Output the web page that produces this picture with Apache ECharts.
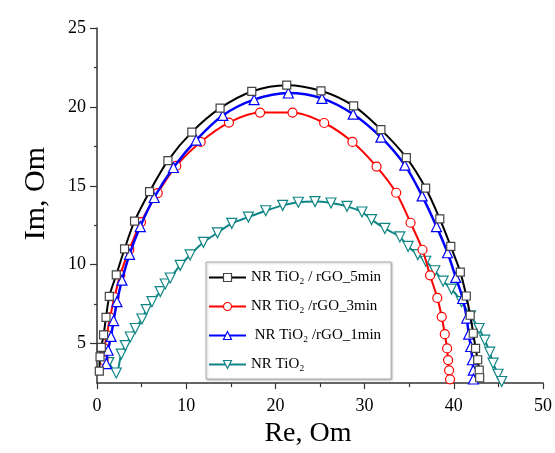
<!DOCTYPE html>
<html>
<head>
<meta charset="utf-8">
<script src="https://cdn.jsdelivr.net/npm/echarts@6/dist/echarts.min.js"></script>
<style>html,body{margin:0;padding:0;background:#fff}#c{width:555px;height:453px}</style>
</head>
<body>
<div id="c"></div>
<script>
const seriesNames = ['NR TiO\u2082 / rGO_5min', 'NR TiO\u2082 /rGO_3min', ' NR TiO\u2082 /rGO_1min', 'NR TiO\u2082'];
const xTicks = [0, 10, 20, 30, 40, 50];
const yTicks = [5, 10, 15, 20, 25];
const yMinorTicks = [7.5, 12.5, 17.5, 22.5];

const re5 = [0.26,0.34,0.48,0.74,1.01,1.38,2.16,3.09,4.21,5.89,7.95,10.63,13.8,17.35,21.27,25.11,28.77,31.83,34.68,36.84,38.43,39.66,40.73,41.4,41.84,42.18,42.44,42.68,42.85,42.9];
const im5 = [3.26,4.16,4.76,5.56,6.66,8.0,9.36,11.0,12.76,14.63,16.6,18.4,19.92,20.98,21.38,21.02,20.06,18.56,16.79,14.86,12.9,11.16,9.53,8.02,6.8,5.66,4.7,3.98,3.32,2.84];

const re3 = [0.74,0.82,1.1,1.46,1.96,2.61,3.62,4.93,6.81,8.88,11.62,14.79,18.28,21.92,25.47,28.64,31.34,33.54,35.15,36.49,37.34,38.15,38.65,38.99,39.25,39.36,39.47,39.58];
const im3 = [3.96,4.7,5.54,6.66,7.94,9.36,10.96,12.7,14.54,16.26,17.78,19.01,19.64,19.64,18.98,17.78,16.22,14.56,12.66,10.95,9.33,7.9,6.7,5.6,4.7,3.96,3.31,2.74];

const re1 = [1.04,1.24,1.57,1.86,2.24,2.8,3.65,4.85,6.41,8.57,11.12,14.1,17.61,21.45,25.22,28.72,31.83,34.51,36.45,38.06,39.3,40.22,41.0,41.45,41.67,41.9,42.09,42.18,42.2];
const im1 = [3.74,4.58,5.46,6.46,7.66,9.02,10.66,12.42,14.26,16.16,17.9,19.46,20.46,20.88,20.54,19.54,18.08,16.31,14.36,12.42,10.76,9.2,7.86,6.62,5.6,4.82,3.98,3.32,2.76];

const re0 = [1.32,2.16,2.72,3.17,3.73,4.29,5.04,5.52,6.16,7.09,7.65,8.21,9.33,10.44,11.93,13.5,15.11,16.97,18.92,20.82,22.57,24.44,26.23,28.02,29.7,30.78,32.27,33.95,34.88,35.97,36.86,37.87,38.8,39.74,40.86,41.87,42.83,43.47,44.03,44.4,44.96,45.37];
const im0 = [3.8,3.14,4.34,4.88,5.42,5.96,6.56,7.16,7.66,8.3,8.78,9.16,9.96,10.62,11.42,12.02,12.62,13.02,13.42,13.76,13.96,14.0,13.91,13.7,13.34,12.86,12.3,11.76,11.16,10.64,10.22,9.62,8.96,8.46,7.66,6.76,5.96,5.22,4.46,3.76,3.06,2.6];

function zip(xs, ys) { return xs.map((x, i) => [x, ys[i]]); }

const chart = echarts.init(document.getElementById('c'));
const font = 'Liberation Serif';
const axisColor = '#333';

function lineSeries(name, xs, ys, color, symbol, size, z, extra) {
  return Object.assign({
    name: name,
    type: 'line',
    data: zip(xs, ys),
    smooth: 0.3,
    symbol: symbol,
    symbolSize: size,
    showAllSymbol: true,
    z: z,
    lineStyle: { color: color, width: 2 },
    itemStyle: { color: '#fff', borderColor: color, borderWidth: 1.2 },
    emphasis: { disabled: true },
    animation: false
  }, extra || {});
}

chart.setOption({
  animation: false,
  grid: { left: 97, right: 12, top: 28, bottom: 51 },
  xAxis: {
    type: 'value', min: 0, max: 50, interval: 10,
    name: 'Re, Om', nameLocation: 'middle', nameGap: 19,
    nameTextStyle: { fontFamily: font, fontSize: 28, color: '#000', padding: [0, 24, 0, 0], verticalAlign: 'top' },
    axisLine: { show: true, lineStyle: { color: axisColor, width: 1.5 } },
    axisTick: { show: true, length: 6, lineStyle: { color: axisColor, width: 1.2 } },
    minorTick: { show: true, splitNumber: 2, length: 4, lineStyle: { color: axisColor, width: 1.2 } },
    axisLabel: { fontFamily: font, fontSize: 18, color: '#000', margin: 14,
      customValues: xTicks },
    splitLine: { show: false }
  },
  yAxis: [{
    type: 'value', min: 2.5, max: 25,
    name: 'Im, Om', nameLocation: 'middle', nameGap: 46,
    nameTextStyle: { fontFamily: font, fontSize: 30, color: '#000', padding: [0, 0, 0, 24] },
    axisLine: { show: true, lineStyle: { color: axisColor, width: 1.5 } },
    axisTick: { show: true, length: 7, customValues: yTicks, lineStyle: { color: axisColor, width: 1.2 } },
    axisLabel: { fontFamily: font, fontSize: 18, color: '#000', margin: 11, customValues: yTicks },
    splitLine: { show: false }
  }, {
    type: 'value', min: 2.5, max: 25, position: 'left',
    axisLine: { show: false },
    axisTick: { show: true, length: 3, customValues: yMinorTicks, lineStyle: { color: axisColor, width: 1.2 } },
    axisLabel: { show: false },
    splitLine: { show: false }
  }],
  legend: {
    orient: 'vertical', left: 206, top: 262,
    data: seriesNames,
    itemWidth: 37, itemHeight: 10, itemGap: 14,
    padding: [8, 10, 7, 2],
    borderColor: '#aaa', borderWidth: 1,
    backgroundColor: '#fff',
    shadowColor: 'rgba(0,0,0,0.25)', shadowBlur: 2, shadowOffsetX: 1, shadowOffsetY: 1,
    textStyle: { fontFamily: font, fontSize: 15, color: '#000' },
    itemStyle: { borderWidth: 1.2 }
  },
  series: [
    lineSeries(seriesNames[3], re0, im0, '#0f8585', 'triangle', 10, 2, { symbolRotate: 180 }),
    lineSeries(seriesNames[1], re3, im3, '#ff0000', 'circle', 9, 3),
    lineSeries(seriesNames[2], re1, im1, '#0000ff', 'triangle', 10, 4, { lineStyle: { color: '#0000ff', width: 2.5 } }),
    lineSeries(seriesNames[0], re5, im5, '#000000', 'rect', 8, 5, { itemStyle: { color: '#fff', borderColor: '#444', borderWidth: 1.2 } })
  ]
});
</script>
</body>
</html>
